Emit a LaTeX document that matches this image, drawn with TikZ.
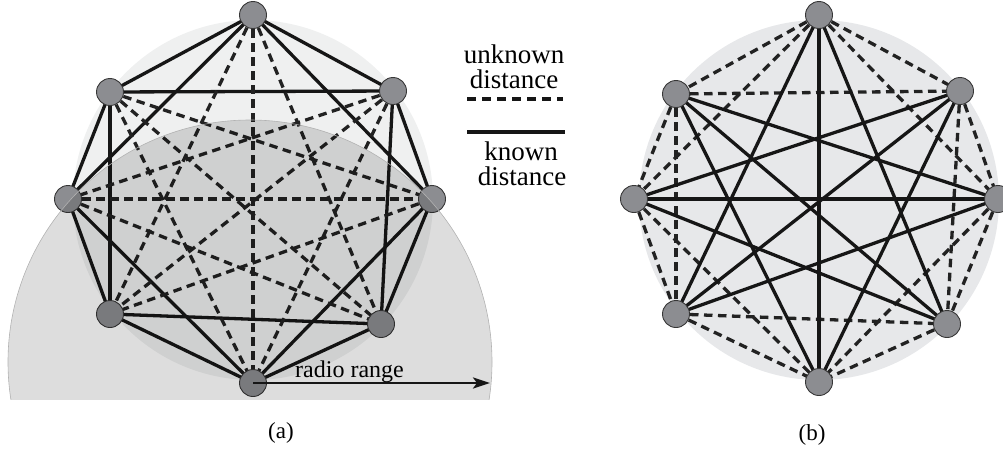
\documentclass[tikz,border=0pt]{standalone}
\usepackage{fontspec}
\setmainfont{Liberation Serif}
\newfontfamily\timesfam{Liberation Serif}
\usetikzlibrary{arrows.meta}
\pgfdeclarelayer{back}
\pgfdeclarelayer{edges}
\pgfdeclarelayer{front}
\pgfsetlayers{back,edges,main,front}
\definecolor{lightA}{RGB}{239,240,240}
\definecolor{lightB}{RGB}{231,232,234}
\definecolor{nodegray}{RGB}{140,141,145}
\definecolor{nodeedge}{RGB}{55,55,55}
\definecolor{edgeink}{RGB}{22,22,22}
\definecolor{dashink}{RGB}{34,34,34}
\tikzset{
  sensor/.style={circle, fill=nodegray, draw=nodeedge, line width=0.9pt, minimum size=27pt, inner sep=0pt},
  known/.style={draw=edgeink, line width=3.3pt},
  unknown/.style={draw=dashink, line width=3.3pt, dash pattern=on 8.5pt off 5.5pt},
  lbl/.style={font=\timesfam\fontsize{23}{27}\selectfont, inner sep=0pt},
  legendtxt/.style={font=\timesfam\fontsize{27}{30}\selectfont, inner sep=0pt, anchor=base},
}
\begin{document}
\begin{tikzpicture}[x=1pt,y=-1pt]
\useasboundingbox (0,0) rectangle (1003,448);
% nodes (a)
\node[sensor] (a0) at (253,15) {};
\node[sensor] (a1) at (393,91) {};
\node[sensor] (a2) at (432,199) {};
\node[sensor] (a3) at (381,324) {};
\node[sensor] (a4) at (253,383) {};
\node[sensor] (a5) at (110,314) {};
\node[sensor] (a6) at (68,199) {};
\node[sensor] (a7) at (110,92) {};
% nodes (b)
\node[sensor] (b0) at (819,15) {};
\node[sensor] (b1) at (960,91) {};
\node[sensor] (b2) at (998,199) {};
\node[sensor] (b3) at (947,324) {};
\node[sensor] (b4) at (819,382) {};
\node[sensor] (b5) at (676,314) {};
\node[sensor] (b6) at (634,199) {};
\node[sensor] (b7) at (676,94) {};
\begin{pgfonlayer}{back}
  \fill[lightA] (253,200) circle[radius=180];
  \fill[lightB] (819,200) circle[radius=180];
\end{pgfonlayer}
\begin{pgfonlayer}{edges}
  \foreach \i/\j in {0/7,0/1,0/6,0/2,7/1,7/6,7/5,1/2,1/3,6/5,6/4,2/3,2/4,5/3,5/4,3/4} {
    \draw[known] (a\i.center) -- (a\j.center);
    \draw[unknown] (b\i.center) -- (b\j.center);
  }
  \foreach \i/\j in {0/3,0/4,0/5,7/2,7/3,7/4,1/6,1/5,1/4,6/2,6/3,2/5} {
    \draw[unknown] (a\i.center) -- (a\j.center);
    \draw[known] (b\i.center) -- (b\j.center);
  }
\end{pgfonlayer}
\begin{pgfonlayer}{front}
  \begin{scope}
    \clip (0,0) rectangle (563,399);
    \fill[black, fill opacity=0.135] (250,362) circle[radius=242];
    \draw[black!30, line width=0.6pt] (250,362) circle[radius=242];
  \end{scope}
  \coordinate (rr) at (490,383);
  \draw[edgeink, line width=2.6pt, -{Stealth[length=17pt,width=11pt,inset=4pt]}] (a4.center) -- (rr);
  \node[font=\timesfam\fontsize{24}{28}\selectfont, inner sep=0pt, anchor=base west] (radio) at (295,377) {radio range};
\end{pgfonlayer}
% legend
\node[legendtxt] (u1) at (514,63) {unknown};
\node[legendtxt] (u2) at (514,88) {distance};
\coordinate (ul) at (467,99);
\coordinate (ur) at (563,99);
\draw[edgeink, line width=3.4pt, dash pattern=on 8.5pt off 6.5pt] (ul) -- (ur);
\coordinate (kl) at (467,132);
\coordinate (kr) at (565,132);
\draw[edgeink, line width=3.8pt] (kl) -- (kr);
\node[legendtxt] (k1) at (521,160) {known};
\node[legendtxt] (k2) at (522,185) {distance};
% captions
\node[lbl] (capa) at (281,433) {(a)};
\node[lbl] (capb) at (812,435) {(b)};
\end{tikzpicture}
\end{document}
